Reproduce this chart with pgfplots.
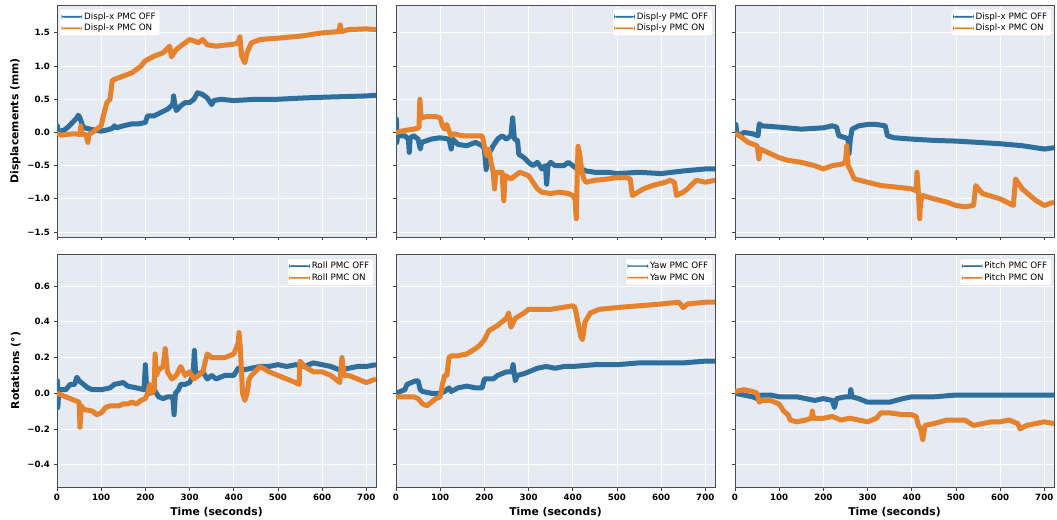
\documentclass[border=0pt]{standalone}
\usepackage{fontspec}
\setmainfont{DejaVu Sans}
\usepackage{pgfplots}
\pgfplotsset{compat=1.18}
\definecolor{bgc}{RGB}{229,234,243}
\definecolor{cblue}{RGB}{46,111,158}
\definecolor{corange}{RGB}{230,129,44}
\pgfplotsset{
  myax/.style={
    scale only axis, width=319bp, height=232bp,
    xmin=0, xmax=722,
    axis background/.style={fill=bgc},
    grid=major, major grid style={white, line width=0.8bp},
    axis line style={draw=black!70, line width=0.8bp},
    tick style={black!75, line width=0.8bp},
    tick align=outside, major tick length=3.5bp,
    xtick pos=bottom, ytick pos=left,
    xtick={0,100,...,700},
    ticklabel style={font=\bfseries\fontsize{8.7}{10}\selectfont},
    /pgf/number format/assume math mode=true,
    label style={font=\bfseries\fontsize{10.8}{12}\selectfont},
    legend style={font=\fontsize{8.8}{10}\selectfont, draw=black!12, fill=white, rounded corners=2bp, inner xsep=2bp, inner ysep=1.5bp, row sep=-0.5bp},
    legend cell align=left,
  },
  toprow/.style={ymin=-1.575, ymax=1.92, ytick={-1.5,-1,...,1.5}},
  botrow/.style={ymin=-0.525, ymax=0.78, ytick={-0.4,-0.2,0,0.2,0.4,0.6}},
  offl/.style={cblue, line width=5bp, line join=round, forget plot},
  onl/.style={corange, line width=5bp, line join=round, forget plot},
  limgb/.style={legend image code/.code={\fill[cblue] (0bp,-0.6bp) rectangle (20bp,0.6bp);}},
  limgo/.style={legend image code/.code={\fill[corange] (0bp,-0.6bp) rectangle (20bp,0.6bp);}},
  lul/.style={legend style={at={(0.008,0.983)}, anchor=north west}},
  lur/.style={legend style={at={(0.992,0.983)}, anchor=north east}},
  lurb/.style={legend style={at={(0.992,0.981)}, anchor=north east}},
}
\begin{document}
\begin{tikzpicture}
\path[use as bounding box] (0,0) rectangle (1057bp,520bp);
% ---------------- Top left
\begin{axis}[myax, toprow, lul, at={(57bp,283bp)}, anchor=south west,
  yticklabels={−1.5,−1.0,−0.5,0.0,0.5,1.0,1.5}, xticklabels={},
  ylabel={Displacements (mm)}]
\addplot[offl] coordinates {(0,0.0)(1,0.1)(2,-0.03)(5,0.02)(15,0.03)(25,0.08)(35,0.15)(45,0.22)(48,0.26)(52,0.22)(58,0.1)(62,0.07)(75,0.05)(90,0.03)(100,0.02)(115,0.04)(125,0.06)(130,0.1)(135,0.07)(150,0.1)(170,0.13)(185,0.13)(200,0.15)(205,0.25)(220,0.25)(235,0.3)(250,0.35)(262,0.42)(264,0.55)(266,0.45)(270,0.33)(280,0.4)(290,0.45)(300,0.45)(310,0.5)(318,0.6)(330,0.57)(340,0.52)(350,0.42)(355,0.48)(370,0.5)(400,0.48)(450,0.5)(500,0.5)(530,0.51)(560,0.52)(600,0.53)(650,0.54)(700,0.55)(722,0.56)};
\addplot[onl] coordinates {(0,-0.02)(10,-0.04)(20,-0.03)(40,-0.02)(52,-0.03)(54,0.1)(56,-0.03)(65,-0.03)(70,-0.15)(72,-0.03)(80,0.0)(90,0.05)(100,0.1)(105,0.25)(113,0.45)(120,0.5)(125,0.78)(130,0.8)(150,0.85)(170,0.9)(190,1.0)(200,1.08)(220,1.15)(240,1.2)(255,1.3)(259,1.14)(270,1.25)(290,1.35)(300,1.4)(310,1.38)(320,1.35)(330,1.4)(340,1.32)(360,1.3)(400,1.33)(410,1.35)(414,1.44)(418,1.15)(425,1.05)(430,1.2)(440,1.35)(460,1.4)(500,1.42)(550,1.45)(600,1.5)(638,1.52)(641,1.62)(644,1.52)(660,1.55)(700,1.56)(722,1.55)};
\addlegendimage{limgb}\addlegendentry{Displ-x PMC OFF}
\addlegendimage{limgo}\addlegendentry{Displ-x PMC ON}
\end{axis}
% ---------------- Top middle
\begin{axis}[myax, toprow, lur, at={(396bp,283bp)}, anchor=south west,
  yticklabels={}, xticklabels={}]
\addplot[offl] coordinates {(0,0.0)(1,0.2)(2,-0.15)(4,0.0)(10,-0.05)(20,-0.05)(28,-0.1)(30,-0.3)(32,-0.08)(40,-0.05)(50,-0.1)(55,-0.25)(58,-0.15)(80,-0.1)(100,-0.08)(120,-0.1)(125,-0.25)(128,-0.1)(140,-0.18)(160,-0.2)(180,-0.15)(195,-0.2)(200,-0.25)(204,-0.56)(208,-0.35)(220,-0.2)(230,-0.1)(240,-0.05)(250,-0.1)(260,-0.05)(264,0.22)(268,-0.1)(275,-0.12)(278,-0.33)(290,-0.38)(300,-0.45)(310,-0.5)(320,-0.45)(330,-0.55)(338,-0.5)(341,-0.78)(344,-0.5)(350,-0.45)(360,-0.5)(380,-0.5)(390,-0.45)(400,-0.5)(410,-0.55)(420,-0.55)(430,-0.58)(450,-0.6)(480,-0.6)(500,-0.62)(550,-0.6)(600,-0.62)(650,-0.58)(700,-0.55)(722,-0.55)};
\addplot[onl] coordinates {(0,0.0)(20,0.03)(40,0.05)(52,0.07)(54,0.5)(57,0.22)(70,0.24)(90,0.24)(100,0.22)(105,0.1)(110,0.05)(115,0.12)(120,0.02)(125,-0.05)(130,-0.02)(150,-0.05)(180,-0.05)(195,-0.05)(200,-0.2)(205,-0.35)(210,-0.25)(215,-0.45)(220,-0.6)(223,-0.85)(226,-0.6)(240,-0.6)(244,-1.03)(247,-0.65)(260,-0.7)(280,-0.6)(300,-0.65)(310,-0.75)(320,-0.85)(330,-0.9)(350,-0.92)(370,-0.9)(390,-0.92)(400,-0.95)(405,-1.0)(408,-1.3)(410,-0.7)(412,-0.21)(415,-0.3)(420,-0.55)(425,-0.7)(430,-0.75)(450,-0.72)(480,-0.7)(500,-0.68)(520,-0.68)(530,-0.7)(535,-0.95)(560,-0.85)(580,-0.8)(610,-0.75)(620,-0.72)(630,-0.75)(635,-0.95)(650,-0.9)(660,-0.85)(670,-0.78)(680,-0.72)(700,-0.75)(722,-0.72)};
\addlegendimage{limgb}\addlegendentry{Displ-y PMC OFF}
\addlegendimage{limgo}\addlegendentry{Displ-y PMC ON}
\end{axis}
% ---------------- Top right
\begin{axis}[myax, toprow, lur, at={(735bp,283bp)}, anchor=south west,
  yticklabels={}, xticklabels={}]
\addplot[offl] coordinates {(0,0.05)(2,0.12)(4,0.0)(10,-0.05)(20,0.0)(40,-0.02)(52,-0.05)(55,0.13)(60,0.1)(100,0.08)(150,0.05)(200,0.07)(220,0.1)(230,0.08)(235,-0.05)(250,-0.08)(256,-0.1)(258,-0.32)(261,-0.1)(265,0.05)(280,0.1)(300,0.12)(320,0.12)(340,0.1)(345,-0.05)(360,-0.08)(400,-0.1)(450,-0.12)(500,-0.13)(550,-0.15)(600,-0.17)(650,-0.2)(700,-0.25)(722,-0.23)};
\addplot[onl] coordinates {(0,-0.02)(10,-0.05)(30,-0.15)(50,-0.2)(54,-0.4)(57,-0.25)(80,-0.32)(100,-0.38)(120,-0.42)(150,-0.45)(180,-0.5)(200,-0.55)(220,-0.5)(240,-0.48)(250,-0.45)(253,-0.2)(256,-0.5)(260,-0.55)(270,-0.7)(300,-0.75)(330,-0.8)(360,-0.82)(400,-0.85)(410,-0.88)(412,-0.6)(415,-0.9)(418,-1.3)(420,-1.05)(425,-0.95)(450,-1.0)(480,-1.05)(500,-1.1)(520,-1.12)(540,-1.1)(545,-0.8)(560,-0.92)(600,-1.0)(630,-1.1)(635,-0.7)(650,-0.85)(680,-1.02)(700,-1.1)(722,-1.05)};
\addlegendimage{limgb}\addlegendentry{Displ-x PMC OFF}
\addlegendimage{limgo}\addlegendentry{Displ-x PMC ON}
\end{axis}
% ---------------- Bottom left
\begin{axis}[myax, botrow, lurb, at={(57bp,33bp)}, anchor=south west, height=233bp,
  yticklabels={−0.4,−0.2,0.0,0.2,0.4,0.6},
  ylabel={Rotations (°)}, xlabel={Time (seconds)}]
\addplot[offl] coordinates {(0,0.02)(1,0.07)(2,-0.08)(4,0.02)(10,0.02)(20,0.02)(30,0.05)(40,0.05)(45,0.09)(50,0.07)(60,0.05)(70,0.03)(80,0.02)(100,0.02)(120,0.03)(130,0.05)(150,0.06)(160,0.04)(180,0.03)(197,0.02)(200,0.16)(203,0.02)(210,0.0)(220,0.02)(230,-0.02)(240,-0.03)(250,-0.02)(262,-0.02)(265,-0.12)(268,0.0)(275,0.02)(280,0.05)(290,0.05)(300,0.06)(308,0.1)(311,0.24)(314,0.1)(330,0.12)(340,0.08)(350,0.1)(360,0.08)(380,0.1)(400,0.1)(410,0.14)(420,0.13)(440,0.14)(460,0.15)(480,0.15)(500,0.16)(520,0.15)(540,0.16)(560,0.15)(580,0.17)(600,0.16)(620,0.15)(640,0.13)(660,0.14)(680,0.15)(700,0.15)(722,0.16)};
\addplot[onl] coordinates {(0,0.0)(10,-0.01)(20,-0.02)(40,-0.04)(50,-0.05)(52,-0.19)(55,-0.07)(60,-0.09)(80,-0.1)(90,-0.12)(100,-0.11)(110,-0.08)(120,-0.07)(140,-0.07)(150,-0.06)(160,-0.06)(170,-0.05)(180,-0.06)(190,-0.04)(200,-0.03)(205,0.0)(210,0.05)(215,0.0)(220,0.02)(222,0.22)(225,0.1)(230,0.13)(240,0.15)(245,0.25)(250,0.12)(260,0.08)(270,0.1)(280,0.15)(290,0.1)(300,0.12)(310,0.08)(320,0.1)(330,0.12)(340,0.22)(350,0.2)(360,0.2)(380,0.2)(400,0.22)(410,0.28)(412,0.34)(415,0.25)(420,0.0)(425,-0.04)(430,0.0)(435,0.08)(440,0.1)(460,0.15)(480,0.12)(500,0.1)(520,0.08)(540,0.06)(548,0.05)(550,0.18)(560,0.15)(580,0.12)(600,0.12)(620,0.1)(640,0.06)(645,0.2)(650,0.1)(660,0.1)(680,0.08)(700,0.06)(722,0.08)};
\addlegendimage{limgb}\addlegendentry{Roll PMC OFF}
\addlegendimage{limgo}\addlegendentry{Roll PMC ON}
\end{axis}
% ---------------- Bottom middle
\begin{axis}[myax, botrow, lurb, at={(396bp,33bp)}, anchor=south west, height=233bp,
  yticklabels={}, xlabel={Time (seconds)}]
\addplot[offl] coordinates {(0,0.0)(10,0.01)(20,0.02)(25,0.05)(35,0.06)(45,0.07)(50,0.07)(55,0.02)(60,0.01)(80,0.0)(100,0.0)(110,0.01)(120,0.03)(125,0.01)(140,0.03)(160,0.04)(180,0.03)(195,0.03)(200,0.08)(220,0.08)(230,0.1)(250,0.12)(262,0.12)(265,0.16)(270,0.07)(275,0.1)(290,0.11)(300,0.12)(320,0.14)(340,0.15)(360,0.14)(380,0.15)(400,0.15)(450,0.16)(500,0.16)(550,0.17)(600,0.17)(650,0.17)(700,0.18)(722,0.18)};
\addplot[onl] coordinates {(0,-0.02)(20,-0.02)(40,-0.02)(50,-0.03)(60,-0.06)(70,-0.07)(80,-0.05)(90,-0.03)(100,-0.02)(105,0.05)(110,0.1)(115,0.1)(120,0.2)(125,0.21)(140,0.21)(160,0.22)(180,0.25)(190,0.27)(200,0.3)(210,0.35)(230,0.38)(250,0.42)(255,0.45)(260,0.37)(270,0.42)(290,0.45)(300,0.47)(350,0.47)(400,0.49)(405,0.48)(410,0.42)(418,0.32)(422,0.3)(428,0.4)(440,0.45)(460,0.47)(500,0.48)(550,0.49)(600,0.5)(640,0.51)(650,0.48)(660,0.5)(700,0.51)(722,0.51)};
\addlegendimage{limgb}\addlegendentry{Yaw PMC OFF}
\addlegendimage{limgo}\addlegendentry{Yaw PMC ON}
\end{axis}
% ---------------- Bottom right
\begin{axis}[myax, botrow, lurb, at={(735bp,33bp)}, anchor=south west, height=233bp,
  yticklabels={}, xlabel={Time (seconds)}]
\addplot[offl] coordinates {(0,0.0)(20,-0.01)(40,-0.02)(50,-0.03)(60,-0.01)(80,-0.01)(100,-0.02)(120,-0.02)(140,-0.02)(160,-0.03)(180,-0.04)(200,-0.03)(220,-0.04)(225,-0.08)(230,-0.03)(250,-0.02)(260,-0.02)(262,0.02)(265,-0.02)(280,-0.03)(300,-0.05)(320,-0.05)(350,-0.05)(380,-0.03)(400,-0.02)(450,-0.02)(500,-0.01)(550,-0.01)(600,-0.01)(650,-0.01)(700,-0.01)(722,-0.01)};
\addplot[onl] coordinates {(0,0.01)(20,0.02)(40,0.01)(50,0.0)(55,-0.05)(60,-0.04)(80,-0.04)(100,-0.06)(110,-0.1)(120,-0.12)(125,-0.15)(140,-0.16)(160,-0.15)(173,-0.14)(175,-0.1)(178,-0.14)(200,-0.14)(220,-0.13)(240,-0.15)(260,-0.14)(280,-0.15)(300,-0.16)(320,-0.14)(330,-0.11)(350,-0.11)(380,-0.12)(400,-0.12)(410,-0.13)(415,-0.18)(420,-0.2)(425,-0.26)(430,-0.18)(450,-0.17)(480,-0.15)(500,-0.15)(520,-0.15)(540,-0.18)(560,-0.17)(580,-0.16)(600,-0.16)(620,-0.15)(640,-0.17)(645,-0.2)(660,-0.18)(680,-0.17)(700,-0.16)(722,-0.17)};
\addlegendimage{limgb}\addlegendentry{Pitch PMC OFF}
\addlegendimage{limgo}\addlegendentry{Pitch PMC ON}
\end{axis}
\end{tikzpicture}
\end{document}
